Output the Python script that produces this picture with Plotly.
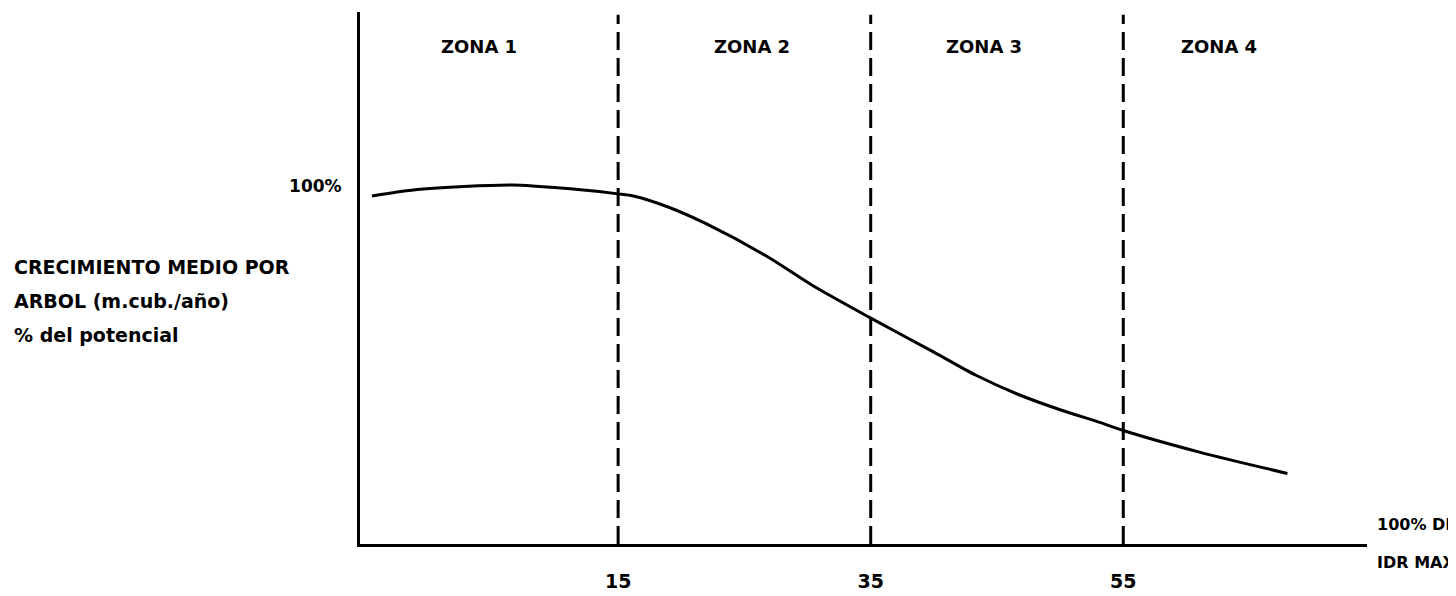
"""
Crecimiento medio por arbol vs. IDR - zonas 1 a 4.
"""
import plotly.graph_objs as go

# curve
idr_x = [-4.5, -0.9, 6.6, 11.2, 15.0, 16.2, 18.9, 22.0, 26.8, 30.4, 34.9, 40.0, 43.3, 46.6, 50.0, 53.2, 55.0, 61.1, 68.0]
growth_pct = [97.2, 99.0, 100.3, 99.2, 97.8, 97.2, 94.2, 89.4, 80.3, 72.2, 63.3, 53.6, 47.2, 41.9, 37.5, 33.9, 31.7, 25.6, 19.7]

zone_bounds = [15, 35, 55]
zone_labels = ["ZONA 1", "ZONA 2", "ZONA 3", "ZONA 4"]
zone_centers = [4.0, 25.6, 44.0, 62.6]
y_label_lines = ["CRECIMIENTO MEDIO POR", "ARBOL (m.cub./año)", "% del potencial"]

FONT = "DejaVu Sans"
# page body has an 8px margin, so the figure is sized to fit beside it
W, H = 1448, 588
L, R, T, B = 352, 89, 4, 49
PLOT_H = H - T - B

fig = go.Figure()

fig.add_trace(go.Scatter(
    x=idr_x, y=growth_pct, mode='lines',
    line=dict(color='black', width=3, shape='spline', smoothing=0.8),
    hoverinfo='skip', showlegend=False
))

for xb in zone_bounds:
    fig.add_shape(
        type='line', xref='x', yref='paper',
        x0=xb, x1=xb, y0=0, y1=0.995,
        line=dict(color='black', width=3, dash='18px,8px')
    )

for name, xc in zip(zone_labels, zone_centers):
    fig.add_annotation(
        x=xc, y=0.935, xref='x', yref='paper', yanchor='middle',
        text=f"<b>{name}</b>", showarrow=False,
        font=dict(family=FONT, size=18, color='black')
    )

for i, line in enumerate(y_label_lines):
    fig.add_annotation(
        x=0, y=0.52 - i * 34 / PLOT_H, xref='paper', yref='paper',
        xshift=-348, xanchor='left', yanchor='middle',
        text=f"<b>{line}</b>", showarrow=False,
        font=dict(family=FONT, size=19, color='black')
    )

fig.add_annotation(
    x=1, y=0, xref='paper', yref='paper', xshift=8, yshift=20,
    xanchor='left', yanchor='middle', text="<b>100% DE</b>",
    showarrow=False, font=dict(family=FONT, size=16, color='black')
)
fig.add_annotation(
    x=1, y=0, xref='paper', yref='paper', xshift=8, yshift=-18,
    xanchor='left', yanchor='middle', text="<b>IDR MAX</b>",
    showarrow=False, font=dict(family=FONT, size=16, color='black')
)

fig.update_layout(
    width=W, height=H,
    margin=dict(l=L, r=R, t=T, b=B),
    plot_bgcolor='white', paper_bgcolor='white',
    showlegend=False,
    font=dict(family=FONT, color='black')
)

fig.update_xaxes(
    range=[-5.44, 74.3], showgrid=False, zeroline=False,
    showline=True, linecolor='black', linewidth=3,
    tickvals=zone_bounds, ticktext=[f"<b>{v}</b>" for v in zone_bounds],
    ticks='', ticklabelstandoff=18, tickfont=dict(family=FONT, size=19)
)
fig.update_yaxes(
    range=[0, 148.6], showgrid=False, zeroline=False,
    showline=True, linecolor='black', linewidth=3,
    tickvals=[100], ticktext=["<b>100%</b>"],
    ticks='', ticklabelstandoff=12, tickfont=dict(family=FONT, size=17)
)

fig.write_html("out.html")
